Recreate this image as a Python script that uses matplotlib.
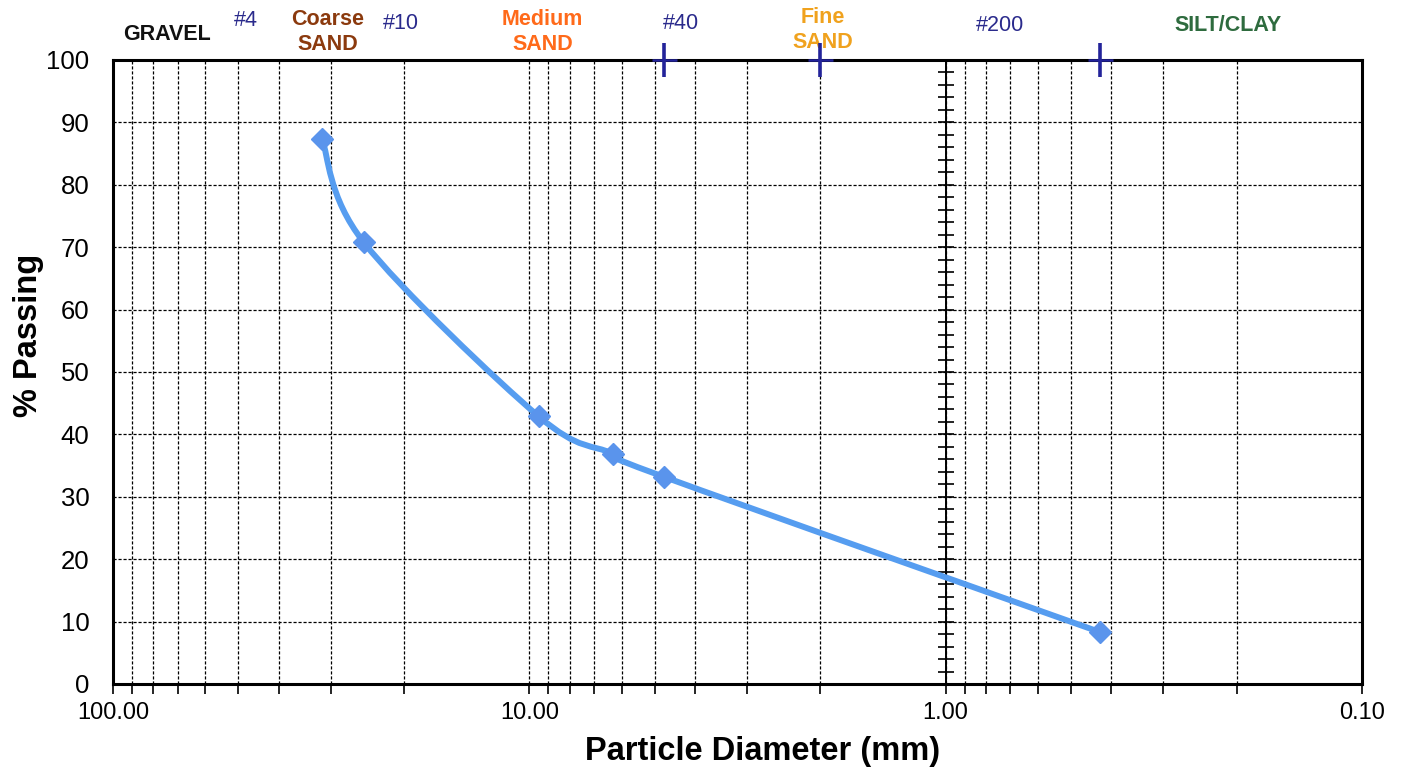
import numpy as np
import matplotlib
matplotlib.use("Agg")
import matplotlib.pyplot as plt
from matplotlib.path import Path
from matplotlib.patches import PathPatch
from matplotlib.ticker import LogLocator, FixedLocator, MultipleLocator, NullFormatter

plt.rcParams['font.family'] = ['Liberation Sans', 'DejaVu Sans']

# sieve results
diameter_mm = [31.5, 25.0, 9.5, 6.3, 4.75, 0.425]
percent_passing = [87.4, 70.8, 42.9, 36.9, 33.2, 8.3]

# soil class boundaries marked along the top
boundary_mm = [4.75, 2.0, 0.425]

# labels above the chart
class_labels = ["GRAVEL", "Coarse\nSAND", "Medium\nSAND", "Fine\nSAND", "SILT/CLAY"]
class_x = [74.0, 30.5, 9.3, 1.97, 0.21]
class_colors = ["#111111", "#8B3A0E", "#FF6A1A", "#F0A21E", "#2E6B3E"]
sieve_labels = ["#4", "#10", "#40", "#200"]
sieve_x = [48.0, 20.3, 4.33, 0.74]

x_ticks = [100, 10, 1, 0.1]
x_ticklabels = ["100.00", "10.00", "1.00", "0.10"]

line_color = "#569DF0"


def smooth_path(xs, ys):
    # Catmull-Rom style bezier through the points, built in log-x space
    lx = np.log10(xs)
    y = np.asarray(ys, dtype=float)
    n = len(lx)
    verts = [(xs[0], y[0])]
    codes = [Path.MOVETO]
    for i in range(n - 1):
        i0 = max(i - 1, 0)
        i3 = min(i + 2, n - 1)
        c1 = (lx[i] + (lx[i + 1] - lx[i0]) / 6, y[i] + (y[i + 1] - y[i0]) / 6)
        c2 = (lx[i + 1] - (lx[i3] - lx[i]) / 6, y[i + 1] - (y[i3] - y[i]) / 6)
        verts += [(10 ** c1[0], c1[1]), (10 ** c2[0], c2[1]), (xs[i + 1], y[i + 1])]
        codes += [Path.CURVE4] * 3
    return Path(verts, codes)


fig = plt.figure(figsize=(14.04, 7.74), dpi=100)
ax = fig.add_axes([0.0805, 0.1163, 0.8895, 0.8062])

ax.set_xscale("log")
ax.set_xlim(100, 0.1)
ax.set_ylim(0, 100)

# grid
ax.xaxis.set_major_locator(FixedLocator(x_ticks))
ax.set_xticklabels(x_ticklabels)
ax.xaxis.set_minor_locator(LogLocator(base=10, subs=np.arange(2, 10)))
ax.xaxis.set_minor_formatter(NullFormatter())
ax.yaxis.set_major_locator(MultipleLocator(10))
ax.grid(which="both", axis="x", color="black", linestyle=(0, (2.5, 1.5)), linewidth=0.9)
ax.grid(which="major", axis="y", color="black", linestyle=(0, (2.5, 1.5)), linewidth=0.9)

for s in ax.spines.values():
    s.set_linewidth(2.2)
    s.set_color("black")

ax.tick_params(axis="x", which="both", direction="out", length=7, width=1.2,
               labelsize=17, pad=6)
ax.tick_params(axis="y", which="both", length=0, labelsize=18.5, pad=17)

# vertical axis crossing at 1.00 mm
sec = ax.secondary_yaxis(2 / 3)
sec.set_yticks(np.arange(0, 101, 10))
sec.yaxis.set_minor_locator(MultipleLocator(2))
sec.tick_params(which="both", direction="inout", length=12, width=1.2,
                labelleft=False, labelright=False)
sec.spines["right"].set_linewidth(1.4)
sec.spines["left"].set_linewidth(1.4)

# gradation curve
ax.add_patch(PathPatch(smooth_path(diameter_mm, percent_passing), facecolor="none",
                       edgecolor=line_color, linewidth=4.3, zorder=4))
ax.plot(diameter_mm, percent_passing, linestyle="none", marker="D", markersize=11.5,
        color="#5A94EC", zorder=5)

# class boundaries on top edge
ax.plot(boundary_mm, [100] * len(boundary_mm), linestyle="none", marker="|",
        markersize=24, markeredgewidth=2.6, color="#23239A", clip_on=False, zorder=6)
ax.plot(boundary_mm, [100] * len(boundary_mm), linestyle="none", marker="_",
        markersize=18, markeredgewidth=1.8, color="#23239A", clip_on=False, zorder=6)

xt = ax.get_xaxis_transform()
class_y = [1.041, 1.045, 1.045, 1.048, 1.055]
for txt, x, y, c in zip(class_labels, class_x, class_y, class_colors):
    ax.text(x, y, txt, transform=xt, ha="center", va="center", fontsize=15.5,
            fontweight="bold", color=c, linespacing=1.3)
sieve_y = [1.064, 1.058, 1.058, 1.056]
for txt, x, y in zip(sieve_labels, sieve_x, sieve_y):
    ax.text(x, y, txt, transform=xt, ha="center", va="center", fontsize=15.5,
            color="#2A2A8C")

ax.set_xlabel("Particle Diameter (mm)", fontsize=23.5, fontweight="bold")
ax.xaxis.set_label_coords(0.52, -0.083)
ax.set_ylabel("% Passing", fontsize=23.5, fontweight="bold")
ax.yaxis.set_label_coords(-0.055, 0.559)

fig.savefig("out.png", dpi=100, facecolor="white")
